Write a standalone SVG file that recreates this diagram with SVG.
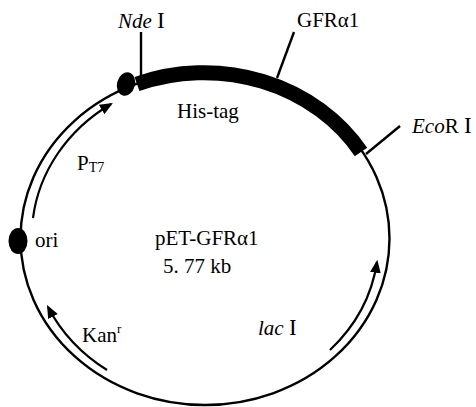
<svg xmlns="http://www.w3.org/2000/svg" width="476" height="407" viewBox="0 0 476 407">
<style>
.t{font-family:"Liberation Serif","Times New Roman",serif;font-size:21px;fill:#000}
.i{font-style:italic}
.ln{fill:none;stroke:#000;stroke-width:2.4}
.arr{fill:none;stroke:#000;stroke-width:2.2;marker-end:url(#ah)}
</style>
<defs>
<marker id="ah" viewBox="0 0 12 10" refX="10" refY="5" markerWidth="13" markerHeight="11" markerUnits="userSpaceOnUse" orient="auto">
<path d="M0,0 L12,5 L0,10 Z" fill="#000"/>
</marker>
</defs>
<g id="connectors">
<ellipse cx="205" cy="238.5" rx="184.5" ry="166.5" class="ln"/>
<path d="M137,84 A184.5,166.5 0 0 1 361,152" fill="none" stroke="#000" stroke-width="15"/>
<line x1="141" y1="32" x2="141" y2="77" class="ln" stroke-width="1.8"/>
<line x1="294" y1="32" x2="277" y2="78" class="ln" stroke-width="1.8"/>
<line x1="400" y1="126" x2="366" y2="154" class="ln" stroke-width="1.8"/>
<path class="arr" d="M33,218 A176.5,158.5 0 0 1 111,104"/>
<path class="arr" d="M107,370 A176.5,158.5 0 0 1 48,307"/>
<path class="arr" d="M330,350 A176.5,158.5 0 0 0 377,262"/>
</g>
<g id="nde-site"><ellipse cx="126" cy="84" rx="9" ry="12" transform="rotate(15 126 84)" fill="#000"/>
<text class="t" x="118" y="28"><tspan class="i">Nde</tspan> <tspan font-size="23">I</tspan></text></g>
<g id="gfr"><text class="t" x="297" y="27">GFRα1</text></g>
<g id="histag"><text class="t" x="177" y="118">His-tag</text></g>
<g id="ecor"><text class="t" x="412" y="133"><tspan class="i">Eco</tspan>R <tspan font-size="23">I</tspan></text></g>
<g id="pt7"><text class="t" x="77" y="170">P<tspan font-size="14" dy="2">T7</tspan></text></g>
<g id="ori"><ellipse cx="18" cy="241" rx="9.5" ry="13" fill="#000"/>
<text class="t" x="35" y="247">ori</text></g>
<g id="title"><text class="t" x="155" y="245">pET-GFRα1</text>
<text class="t" x="163" y="273">5. 77 kb</text></g>
<g id="kan"><text class="t" x="82" y="342">Kan<tspan font-size="13" dy="-9">r</tspan></text></g>
<g id="lac"><text class="t" x="258" y="335"><tspan class="i">lac</tspan> <tspan font-size="23">I</tspan></text></g>
</svg>
